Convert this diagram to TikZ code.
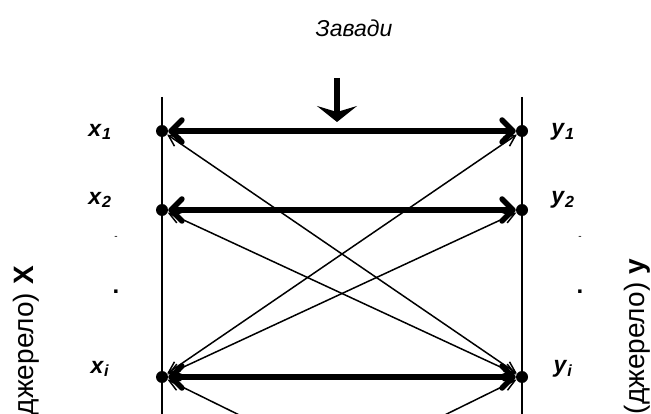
\documentclass[tikz,border=0pt]{standalone}
\usepackage{fontspec}
\setmainfont{Liberation Sans}
\usetikzlibrary{arrows.meta}
\newcommand{\sig}[2]{\textbf{\textit{#1}\textsubscript{\textit{#2}}}}
\begin{document}
\begin{tikzpicture}[
  x=1pt, y=-1pt,
  rail/.style={line width=2pt},
  vtx/.style={circle, fill=black, inner sep=0pt, minimum size=12pt},
  siglabel/.style={inner sep=0pt, font=\fontsize{23}{26}\selectfont},
  gap/.style={inner sep=0pt, font=\bfseries\fontsize{24}{26}\selectfont},
  mainlink/.style={{Straight Barb[length=11pt,width=22pt,round]}-{Straight Barb[length=11pt,width=22pt,round]},
                   line width=5.5pt},
  crosslink/.style={{Straight Barb[length=11pt,width=11pt]}-{Straight Barb[length=11pt,width=11pt]},
                    line width=1.5pt},
  hit/.style={-{Stealth[length=16pt,width=40pt,inset=6pt]}, line width=6.5pt},
  sidetext/.style={rotate=90, anchor=east, inner sep=0pt, font=\fontsize{28}{32}\selectfont}
]
\useasboundingbox (0,0) rectangle (651,414);
\clip (0,0) rectangle (651,414);

% vertices
\node[vtx] (x1) at (162,131) {};
\node[vtx] (x2) at (162,210) {};
\node[vtx] (xi) at (162,377) {};
\node[vtx] (xn) at (162,554) {};
\node[vtx] (y1) at (522,131) {};
\node[vtx] (y2) at (522,210) {};
\node[vtx] (yi) at (522,377) {};
\node[vtx] (yn) at (522,554) {};

\coordinate (ltop) at (162,97);
\coordinate (rtop) at (522,97);
\draw[rail] (ltop) -- (xn.center);
\draw[rail] (rtop) -- (yn.center);

% labels
\node[siglabel] (lx1) at (100,132) {\sig{x}{1}};
\node[siglabel] (lx2) at (100,200) {\sig{x}{2}};
\node[siglabel] (lxi) at (100,369) {\sig{x}{i}};
\node[siglabel] (ly1) at (563,132) {\sig{y}{1}};
\node[siglabel] (ly2) at (563,200) {\sig{y}{2}};
\node[siglabel] (lyi) at (563,369) {\sig{y}{i}};

\node[gap, font=\fontsize{10}{10}\selectfont] (dl1) at (116,238) {-};
\node[gap] (dl2) at (116,292) {.};
\node[gap, font=\fontsize{10}{10}\selectfont] (dr1) at (580,238) {-};
\node[gap] (dr2) at (580,292) {.};

% links
\draw[mainlink] (x1) -- (y1);
\draw[mainlink] (x2) -- (y2);
\draw[mainlink] (xi) -- (yi);

\draw[crosslink] (x1) -- (yi);
\draw[crosslink] (x2) -- (yi);
\draw[crosslink] (xi) -- (y1);
\draw[crosslink] (xi) -- (y2);
\draw[crosslink] (xi) -- (yn);
\draw[crosslink] (xn) -- (yi);

% disturbance
\node[font=\itshape\fontsize{23}{26}\selectfont] (noise) at (354,28) {Завади};
\coordinate (ntop) at (337,78);
\coordinate (nbot) at (337,122);
\draw[hit] (ntop) -- (nbot);

\node[sidetext] (srcx) at (26,266) {джерело) \textbf{X}};
\node[sidetext] (srcy) at (637,259) {(джерело) \textbf{y}};
\end{tikzpicture}
\end{document}
